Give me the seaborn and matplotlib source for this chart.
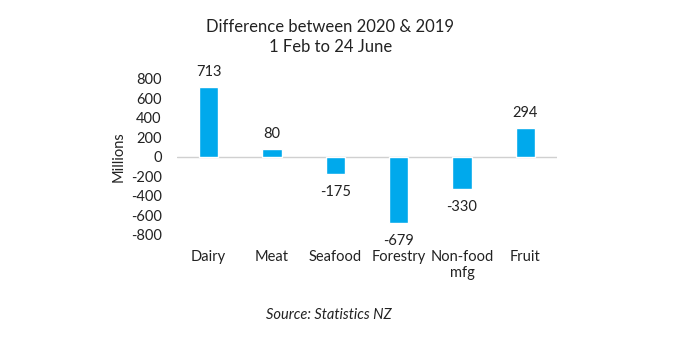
import matplotlib
matplotlib.use("Agg")
import matplotlib.pyplot as plt
import seaborn as sns
import pandas as pd

categories = ["Dairy", "Meat", "Seafood", "Forestry", "Non-food\nmfg", "Fruit"]
values = [713, 80, -175, -679, -330, 294]
yticks = [800, 600, 400, 200, 0, -200, -400, -600, -800]

sns.set_theme(style="white")
plt.rcParams["font.family"] = ["Lato", "DejaVu Sans"]

df = pd.DataFrame({"category": categories, "value": values})

fig = plt.figure(figsize=(6.98, 3.37), dpi=100)
ax = fig.add_axes([0.2536, 0.3027, 0.5444, 0.4629])

bar_color = "#00A9EC"
sns.barplot(data=df, x="category", y="value", color=bar_color, width=0.31,
            saturation=1, ax=ax, zorder=3)

ax.axhline(0, color="#d0d0d0", lw=1, zorder=2)
ax.set_xlim(-0.5, len(categories) - 0.5)
ax.set_ylim(-800, 800)
ax.set_yticks(yticks)
ax.set_yticklabels([str(t) for t in yticks], fontsize=10.5, color="#222222")
ax.tick_params(axis="y", length=0, pad=11)
ax.tick_params(axis="x", length=0, pad=11, labelsize=10.5, labelcolor="#222222")
ax.set_xlabel("")
ax.set_ylabel("Millions", fontsize=10.5, color="#222222", labelpad=4)
for s in ax.spines.values():
    s.set_visible(False)

for i, v in enumerate(values):
    if v >= 0:
        ax.annotate(f"{v}", (i, v), xytext=(0, 6), textcoords="offset points",
                    ha="center", va="bottom", fontsize=10.5, color="#222222")
    else:
        ax.annotate(f"{v}", (i, v), xytext=(0, -8), textcoords="offset points",
                    ha="center", va="top", fontsize=10.5, color="#222222")

fig.text(0.473, 0.89, "Difference between 2020 & 2019\n1 Feb to 24 June",
         ha="center", va="center", fontsize=12, color="#222222", linespacing=1.3)
fig.text(0.471, 0.065, "Source: Statistics NZ", ha="center", va="center",
         fontsize=10.5, style="italic", color="#222222")

fig.savefig("out.png", dpi=100, facecolor="white")
